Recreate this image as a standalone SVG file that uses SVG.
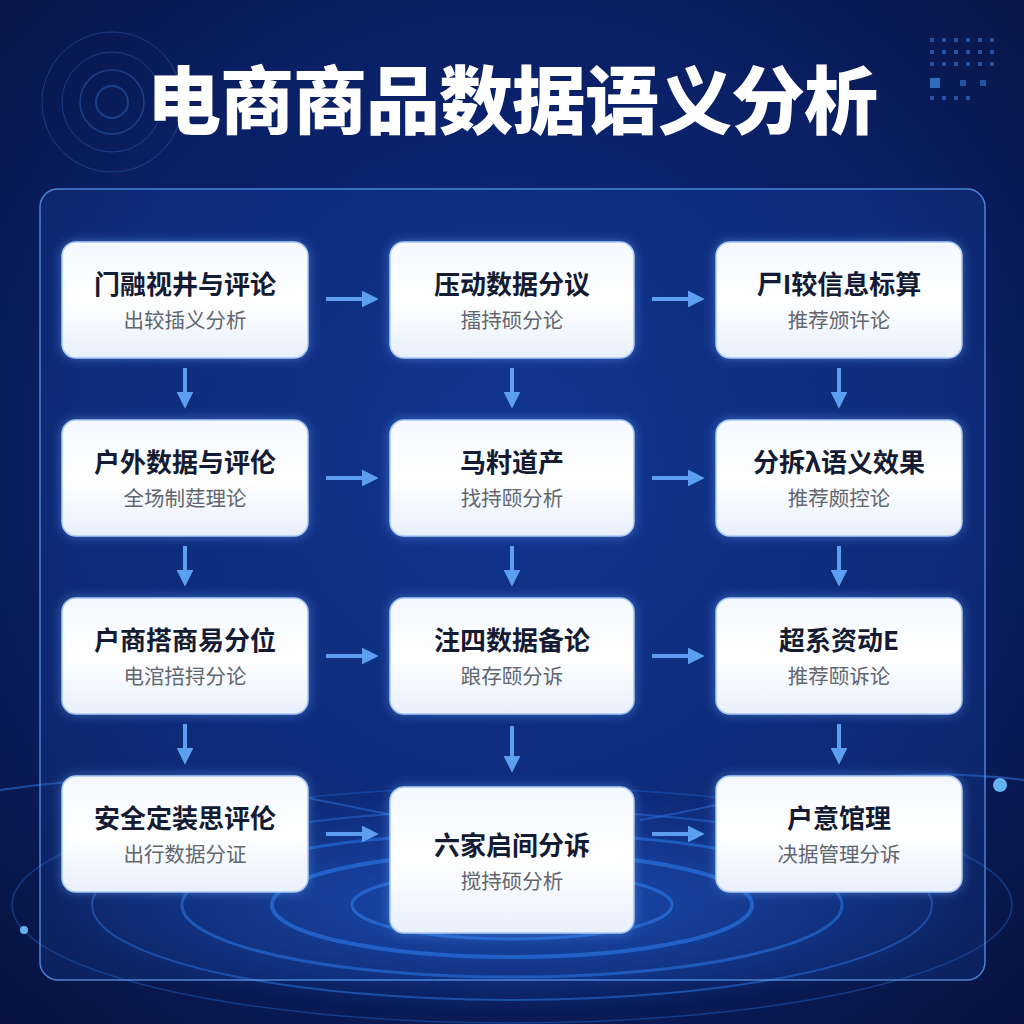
<svg xmlns="http://www.w3.org/2000/svg" width="1024" height="1024" viewBox="0 0 1024 1024">
<defs>
<radialGradient id="bg" cx="50%" cy="45%" r="75%">
<stop offset="0" stop-color="#0d2e86"/>
<stop offset="0.6" stop-color="#0a1f63"/>
<stop offset="1" stop-color="#07123d"/>
</radialGradient>
<linearGradient id="nodeFill" x1="0" y1="0" x2="0" y2="1">
<stop offset="0" stop-color="#f4f8ff"/>
<stop offset="0.5" stop-color="#ffffff"/>
<stop offset="1" stop-color="#e8f0fd"/>
</linearGradient>
<radialGradient id="floorGlow" cx="50%" cy="50%" r="50%">
<stop offset="0" stop-color="#2f7cff" stop-opacity="0.55"/>
<stop offset="1" stop-color="#2f7cff" stop-opacity="0"/>
</radialGradient>
<filter id="glow" x="-20%" y="-20%" width="140%" height="140%">
<feGaussianBlur stdDeviation="6"/>
</filter>
<marker id="ah" viewBox="0 0 10 10" refX="6" refY="5" markerWidth="4.2" markerHeight="4.2" orient="auto">
<path d="M0,0 L10,5 L0,10 Z" fill="#5c9ff0"/>
</marker>
<style>
.node rect.box{fill:url(#nodeFill);stroke:#a9c8f5;stroke-width:1.5}
.node rect.halo{fill:#6aa8ff;opacity:0.55;filter:url(#glow)}
.t{font-family:"Noto Sans CJK SC","Noto Sans",sans-serif;font-weight:700;font-size:26px;fill:#141b33;text-anchor:middle}
.s{font-family:"Noto Sans CJK SC","Noto Sans",sans-serif;font-weight:400;font-size:20.5px;fill:#62666f;text-anchor:middle}
.conn line{stroke:#5c9ff0;stroke-width:4;marker-end:url(#ah)}
.ring{fill:none;stroke:#2f8cff}
</style>
</defs>
<rect width="1024" height="1024" fill="url(#bg)"/>
<!-- decorative background -->
<g opacity="0.9">
<ellipse cx="512" cy="905" rx="470" ry="110" fill="url(#floorGlow)"/>
<ellipse class="ring" cx="512" cy="905" rx="420" ry="95" stroke-width="2" opacity="0.5"/>
<ellipse class="ring" cx="512" cy="905" rx="330" ry="72" stroke-width="3" opacity="0.6"/>
<ellipse class="ring" cx="512" cy="905" rx="240" ry="52" stroke-width="4" opacity="0.7"/>
<ellipse class="ring" cx="512" cy="905" rx="160" ry="34" stroke-width="3" opacity="0.7"/>
<ellipse class="ring" cx="512" cy="905" rx="500" ry="118" stroke-width="1.5" opacity="0.35"/>
<path d="M0,790 C200,760 300,800 420,820" stroke="#3a8cff" stroke-width="2" fill="none" opacity="0.5"/>
<path d="M1024,780 C860,760 760,800 640,820" stroke="#3a8cff" stroke-width="2" fill="none" opacity="0.5"/>
<circle cx="1000" cy="785" r="7" fill="#6fc3ff"/>
<circle cx="24" cy="930" r="4" fill="#6fc3ff"/>
</g>
<g opacity="0.35" fill="none" stroke="#3f7fe0">
<circle cx="112" cy="102" r="16" stroke-width="2"/>
<circle cx="112" cy="102" r="32" stroke-width="1.5"/>
<circle cx="112" cy="102" r="50" stroke-width="1"/>
<circle cx="112" cy="102" r="70" stroke-width="1"/>
</g>
<g fill="#3b78d8" opacity="0.6">
<rect x="930" y="38" width="4" height="4"/><rect x="942" y="38" width="4" height="4"/><rect x="954" y="38" width="4" height="4"/><rect x="966" y="38" width="4" height="4"/><rect x="978" y="38" width="4" height="4"/><rect x="990" y="38" width="4" height="4"/>
<rect x="930" y="50" width="4" height="4"/><rect x="942" y="50" width="4" height="4"/><rect x="954" y="50" width="4" height="4"/><rect x="966" y="50" width="4" height="4"/><rect x="978" y="50" width="4" height="4"/><rect x="990" y="50" width="4" height="4"/>
<rect x="930" y="62" width="4" height="4"/><rect x="942" y="62" width="4" height="4"/><rect x="954" y="62" width="4" height="4"/><rect x="966" y="62" width="4" height="4"/><rect x="978" y="62" width="4" height="4"/><rect x="990" y="62" width="4" height="4"/>
<rect x="930" y="78" width="10" height="10" fill="#4aa0ff"/><rect x="960" y="80" width="6" height="6"/><rect x="980" y="80" width="6" height="6"/>
<rect x="930" y="96" width="4" height="4"/><rect x="942" y="96" width="4" height="4"/><rect x="954" y="96" width="4" height="4"/><rect x="966" y="96" width="4" height="4"/>
</g>
<!-- title -->
<text x="512" y="128" font-family="Noto Sans CJK SC, sans-serif" font-weight="900" font-size="74" fill="#ffffff" text-anchor="middle" letter-spacing="-1">电商商品数据语义分析</text>
<!-- outer panel -->
<rect x="40" y="189" width="945" height="791" rx="18" fill="#1a4bb0" fill-opacity="0.25" stroke="#5a9cf0" stroke-width="1.5" stroke-opacity="0.8"/>
<!-- connectors -->
<g id="connectors" class="conn">
<line x1="326" y1="299" x2="372" y2="299"/>
<line x1="652" y1="299" x2="698" y2="299"/>
<line x1="326" y1="478" x2="372" y2="478"/>
<line x1="652" y1="478" x2="698" y2="478"/>
<line x1="326" y1="656" x2="372" y2="656"/>
<line x1="652" y1="656" x2="698" y2="656"/>
<line x1="326" y1="834" x2="372" y2="834"/>
<line x1="652" y1="834" x2="698" y2="834"/>
<line x1="185" y1="368" x2="185" y2="402"/>
<line x1="512" y1="368" x2="512" y2="402"/>
<line x1="839" y1="368" x2="839" y2="402"/>
<line x1="185" y1="546" x2="185" y2="580"/>
<line x1="512" y1="546" x2="512" y2="580"/>
<line x1="839" y1="546" x2="839" y2="580"/>
<line x1="185" y1="724" x2="185" y2="758"/>
<line x1="512" y1="726" x2="512" y2="766"/>
<line x1="839" y1="724" x2="839" y2="758"/>
</g>
<!-- nodes -->
<g id="n1" class="node"><rect class="halo" x="62" y="242" width="246" height="116" rx="14"/><rect class="box" x="62" y="242" width="246" height="116" rx="14"/><text class="t" x="185" y="294">门融视井与评论</text><text class="s" x="185" y="328">出较插义分析</text></g>
<g id="n2" class="node"><rect class="halo" x="390" y="242" width="244" height="116" rx="14"/><rect class="box" x="390" y="242" width="244" height="116" rx="14"/><text class="t" x="512" y="294">压动数据分议</text><text class="s" x="512" y="328">擂持硕分论</text></g>
<g id="n3" class="node"><rect class="halo" x="716" y="242" width="246" height="116" rx="14"/><rect class="box" x="716" y="242" width="246" height="116" rx="14"/><text class="t" x="839" y="294">尸I较信息标算</text><text class="s" x="839" y="328">推荐颁许论</text></g>
<g id="n4" class="node"><rect class="halo" x="62" y="420" width="246" height="116" rx="14"/><rect class="box" x="62" y="420" width="246" height="116" rx="14"/><text class="t" x="185" y="472">户外数据与评伦</text><text class="s" x="185" y="506">全场制莛理论</text></g>
<g id="n5" class="node"><rect class="halo" x="390" y="420" width="244" height="116" rx="14"/><rect class="box" x="390" y="420" width="244" height="116" rx="14"/><text class="t" x="512" y="472">马籿道产</text><text class="s" x="512" y="506">找持颐分析</text></g>
<g id="n6" class="node"><rect class="halo" x="716" y="420" width="246" height="116" rx="14"/><rect class="box" x="716" y="420" width="246" height="116" rx="14"/><text class="t" x="839" y="472">分拆λ语义效果</text><text class="s" x="839" y="506">推荐颇控论</text></g>
<g id="n7" class="node"><rect class="halo" x="62" y="598" width="246" height="116" rx="14"/><rect class="box" x="62" y="598" width="246" height="116" rx="14"/><text class="t" x="185" y="650">户商搭商易分位</text><text class="s" x="185" y="684">电涫掊挦分论</text></g>
<g id="n8" class="node"><rect class="halo" x="390" y="598" width="244" height="116" rx="14"/><rect class="box" x="390" y="598" width="244" height="116" rx="14"/><text class="t" x="512" y="650">注四数据备论</text><text class="s" x="512" y="684">踉存颐分诉</text></g>
<g id="n9" class="node"><rect class="halo" x="716" y="598" width="246" height="116" rx="14"/><rect class="box" x="716" y="598" width="246" height="116" rx="14"/><text class="t" x="839" y="650">超系资动E</text><text class="s" x="839" y="684">推荐颐诉论</text></g>
<g id="n10" class="node"><rect class="halo" x="62" y="776" width="246" height="116" rx="14"/><rect class="box" x="62" y="776" width="246" height="116" rx="14"/><text class="t" x="185" y="828">安全定装思评伦</text><text class="s" x="185" y="862">出行数据分证</text></g>
<g id="n11" class="node"><rect class="halo" x="390" y="787" width="244" height="146" rx="14"/><rect class="box" x="390" y="787" width="244" height="146" rx="14"/><text class="t" x="512" y="855">六家启间分诉</text><text class="s" x="512" y="889">搅持硕分析</text></g>
<g id="n12" class="node"><rect class="halo" x="716" y="776" width="246" height="116" rx="14"/><rect class="box" x="716" y="776" width="246" height="116" rx="14"/><text class="t" x="839" y="828">户意馆理</text><text class="s" x="839" y="862">决据管理分诉</text></g>
</svg>
